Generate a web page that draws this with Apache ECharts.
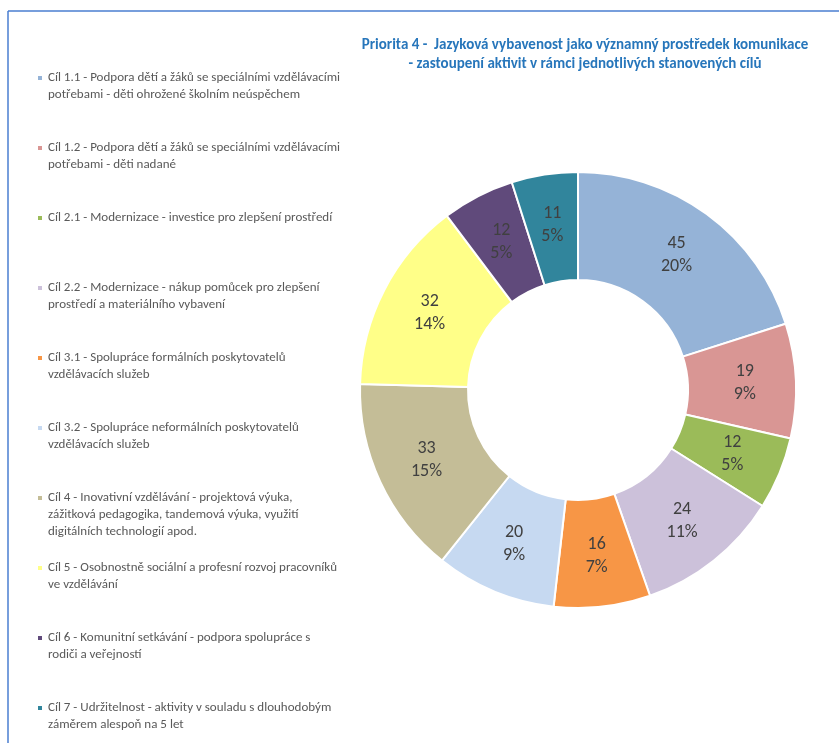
<!DOCTYPE html>
<html>
<head>
<meta charset="utf-8">
<script src="https://cdn.jsdelivr.net/npm/echarts@6/dist/echarts.min.js"></script>
<style>
  html, body { margin: 0; padding: 0; background: #fff; }
  #chart { width: 839px; height: 743px; }
</style>
</head>
<body>
<div id="chart"></div>
<script>
// cíle (zalomené jako v legendě)
const categories = [
  'Cíl 1.1 - Podpora dětí a žáků se speciálními vzdělávacími\npotřebami - děti ohrožené školním neúspěchem',
  'Cíl 1.2 - Podpora dětí a žáků se speciálními vzdělávacími\npotřebami - děti nadané',
  'Cíl 2.1 - Modernizace - investice pro zlepšení prostředí',
  'Cíl 2.2 - Modernizace - nákup pomůcek pro zlepšení\nprostředí a materiálního vybavení',
  'Cíl 3.1 - Spolupráce formálních poskytovatelů\nvzdělávacích služeb',
  'Cíl 3.2 - Spolupráce neformálních poskytovatelů\nvzdělávacích služeb',
  'Cíl 4 - Inovativní vzdělávání - projektová výuka,\nzážitková pedagogika, tandemová výuka, využití\ndigitálních technologií apod.',
  'Cíl 5 - Osobnostně sociální a profesní rozvoj pracovníků\nve vzdělávání',
  'Cíl 6 - Komunitní setkávání - podpora spolupráce s\nrodiči a veřejností',
  'Cíl 7 - Udržitelnost - aktivity v souladu s dlouhodobým\nzáměrem alespoň na 5 let'
]
// počet aktivit
const values = [45, 19, 12, 24, 16, 20, 33, 32, 12, 11]
const colors = ['#95b3d7', '#d99694', '#9bbb59', '#ccc1da', '#f79646',
  '#c6d9f1', '#c4bd97', '#ffff88', '#604a7b', '#31859c']

const font = 'Carlito, Lato, sans-serif'
const lineH = 17

// jedna legenda na položku; prázdné řádky nahoře, aby ikonka seděla u prvního řádku
const legends = categories.map((name, i) => {
  const n = name.split('\n').length
  return {
    data: [name],
    left: 36,
    top: 78 + i * 70 - lineH / 2 - (n - 1) * lineH,
    padding: 0,
    icon: 'rect',
    itemWidth: 6,
    itemHeight: 6,
    itemGap: 0,
    selectedMode: false,
    formatter: (s) => '\n'.repeat(n - 1) + s,
    textStyle: {
      color: '#595959',
      fontSize: 13,
      fontFamily: font,
      lineHeight: lineH
    }
  }
})

const chart = echarts.init(document.getElementById('chart'))
const option = {
  color: colors,
  title: {
    text: 'Priorita 4 -  Jazyková vybavenost jako významný prostředek komunikace\n- zastoupení aktivit v rámci jednotlivých stanovených cílů',
    left: 580,
    top: 31,
    textAlign: 'center',
    textStyle: {
      color: '#2776bb',
      fontSize: 15,
      fontWeight: 'bold',
      fontFamily: font,
      lineHeight: 19
    }
  },
  legend: legends,
  graphic: [
    { type: 'line', shape: { x1: 8, y1: 11, x2: 839, y2: 11 }, style: { stroke: '#4a7ed0', lineWidth: 1.5 } },
    { type: 'line', shape: { x1: 8, y1: 11, x2: 8, y2: 743 }, style: { stroke: '#4a7ed0', lineWidth: 1.5 } }
  ],
  series: [
    {
      type: 'pie',
      center: [578, 390],
      radius: [110, 218],
      startAngle: 90,
      clockwise: true,
      percentPrecision: 0,
      avoidLabelOverlap: false,
      itemStyle: { borderColor: '#fff', borderWidth: 2 },
      label: {
        position: 'inside',
        formatter: '{c}\n{d}%',
        color: '#404040',
        fontSize: 18,
        fontFamily: font,
        lineHeight: 23
      },
      labelLine: { show: false },
      emphasis: { disabled: true },
      data: categories.map((name, i) => ({ name, value: values[i] }))
    }
  ]
}
chart.setOption(option)
</script>
</body>
</html>
